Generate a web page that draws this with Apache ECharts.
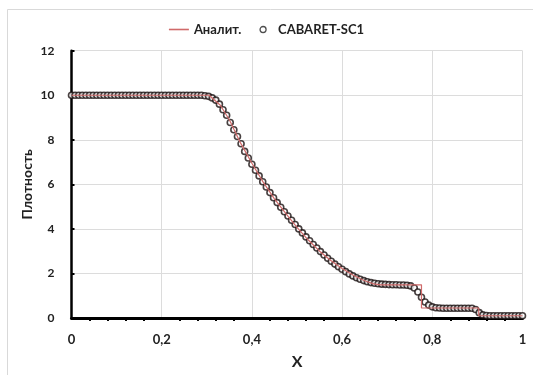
<!DOCTYPE html>
<html>
<head>
<meta charset="utf-8">
<script src="https://cdn.jsdelivr.net/npm/echarts@6/dist/echarts.min.js"></script>
<style>html,body{margin:0;padding:0;background:#fff}#c{width:533px;height:375px}</style>
</head>
<body>
<div id="c"></div>
<script>
// Analytic solution
var analytX = [0, 0.305, 0.33, 0.35, 0.375, 0.40, 0.425, 0.45, 0.475, 0.50, 0.525, 0.55, 0.575, 0.60, 0.625, 0.65, 0.67, 0.685, 0.776, 0.776, 0.903, 0.903, 1];
var analytY = [10, 10, 9.55, 8.9, 7.85, 6.95, 6.1, 5.35, 4.7, 4.07, 3.5, 3.0, 2.58, 2.22, 1.92, 1.67, 1.53, 1.49, 1.49, 0.45, 0.45, 0.1, 0.1];

// CABARET-SC1 points, x step 0.008
var cabStep = 0.008;
var cabY = [
 10,10,10,10,10,10,10,10,10,10,
 10,10,10,10,10,10,10,10,10,10,
 10,10,10,10,10,10,10,10,10,10,
 10,10,10,10,10,10,10,9.98,9.95,9.88,
 9.78,9.6,9.35,9.1,8.78,8.45,8.15,7.82,7.48,7.18,
 6.9,6.63,6.38,6.12,5.88,5.63,5.4,5.18,4.97,4.77,
 4.58,4.39,4.2,4.0,3.82,3.64,3.47,3.3,3.14,2.98,
 2.83,2.68,2.55,2.42,2.3,2.19,2.08,1.98,1.89,1.81,
 1.74,1.68,1.63,1.59,1.56,1.54,1.52,1.51,1.5,1.49,
 1.49,1.48,1.48,1.47,1.44,1.35,1.17,0.93,0.72,0.58,
 0.5,0.46,0.45,0.44,0.44,0.44,0.44,0.44,0.44,0.44,
 0.44,0.44,0.38,0.24,0.14,0.11,0.1,0.1,0.1,0.1,
 0.1,0.1,0.1,0.1,0.1,0.1
];

var yTicks = [0, 2, 4, 6, 8, 10, 12];
var xTicks = [0, 0.2, 0.4, 0.6, 0.8, 1];

var analytData = analytX.map(function (x, i) { return [x, analytY[i]]; });
var cabData = cabY.map(function (y, i) { return [+(i * cabStep).toFixed(4), y]; });

var chart = echarts.init(document.getElementById('c'));
var font = 'Lato, "Open Sans", sans-serif';
var txt = '#222';
chart.setOption({
  animation: false,
  backgroundColor: '#fff',
  graphic: [{
    type: 'rect', left: 5, top: 7, shape: { width: 526, height: 375 },
    style: { fill: 'none', stroke: '#d9d9d9', lineWidth: 1 }, z: -1
  }],
  legend: {
    top: 18, left: 'center', itemGap: 18, itemWidth: 20, itemHeight: 6,
    textStyle: { fontFamily: font, fontWeight: 'bold', fontSize: 13, color: txt },
    data: [
      { name: 'Аналит.', icon: 'path://M0,0 L20,0 L20,1.6 L0,1.6 Z' },
      { name: 'CABARET-SC1', icon: 'circle', itemStyle: { color: '#fff', borderColor: '#222', borderWidth: 1.3 } }
    ]
  },
  grid: { left: 71.5, right: 10.5, top: 50.7, bottom: 50.7 },
  xAxis: {
    type: 'value', min: 0, max: 1, interval: 0.2,
    name: 'X', nameLocation: 'middle', nameGap: 36,
    nameTextStyle: { fontFamily: font, fontWeight: 'bold', fontSize: 16, color: txt },
    axisLine: { lineStyle: { color: '#000', width: 3 } },
    axisTick: { show: false },
    minorTick: { show: true, splitNumber: 5, length: 3, lineStyle: { color: '#000', width: 2 } },
    axisLabel: { fontFamily: font, fontWeight: 'bold', fontSize: 13, color: txt, margin: 15,
      formatter: function (v) { return String(+v.toFixed(1)).replace('.', ','); } },
    splitLine: { show: true, lineStyle: { color: '#dcdcdc', width: 1 } }
  },
  yAxis: {
    type: 'value', min: 0, max: 12, interval: 2,
    name: 'Плотность', nameLocation: 'middle', nameGap: 44, nameRotate: 90, nameMoveOverlap: false,
    nameTextStyle: { fontFamily: font, fontWeight: 'bold', fontSize: 14, color: txt, verticalAlign: 'middle' },
    axisLine: { show: true, lineStyle: { color: '#000', width: 2.5 } },
    axisTick: { show: true, inside: true, length: 3, lineStyle: { color: '#000', width: 2 } },
    axisLabel: { fontFamily: font, fontWeight: 'bold', fontSize: 12, color: txt, margin: 17 },
    splitLine: { show: true, lineStyle: { color: '#dcdcdc', width: 1 } }
  },
  series: [
    {
      name: 'CABARET-SC1', type: 'scatter', data: cabData, symbol: 'circle', symbolSize: 6,
      itemStyle: { color: '#fff', borderColor: '#1a1212', borderWidth: 1.6 }, z: 2
    },
    {
      name: 'Аналит.', type: 'line', data: analytData, showSymbol: false, symbol: 'none',
      lineStyle: { color: '#d06a6a', width: 1.2 }, itemStyle: { color: '#d06a6a' }, z: 3
    }
  ]
});
</script>
</body>
</html>
